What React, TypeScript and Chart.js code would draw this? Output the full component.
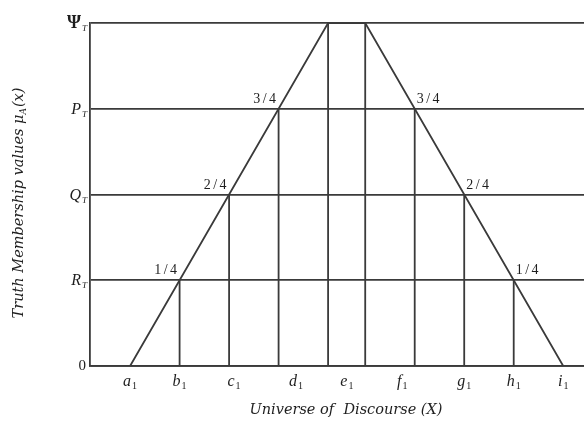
import { useEffect, useRef } from "react";
import { Chart, registerables } from "chart.js";

Chart.register(...registerables);

// Membership levels on the vertical axis (symbol + subscript) and their degrees
const levelSymbols = ["R", "Q", "P", "Ψ"];
const levelValues = [0.25, 0.5, 0.75, 1];
const fractionLabels = ["1/4", "2/4", "3/4"];

// Trapezoidal truth-membership function: a1 -> plateau -> i1
const trapezoidX = [0, 4, 4.75, 8.75];
const trapezoidY = [0, 1, 1, 0];

// Vertical drop lines from the membership curve to the axis
const dropX = [1, 2, 3, 4, 4.75, 5.75, 6.75, 7.75];
const dropTop = [0.25, 0.5, 0.75, 1, 1, 0.75, 0.5, 0.25];

// Points of the universe of discourse shown under the axis
const xTickNames = ["a", "b", "c", "d", "e", "f", "g", "h", "i"];
const xTickValues = [0, 1, 2.1, 3.35, 4.38, 5.5, 6.75, 7.75, 8.75];

const LINE = "#3a3a3a";
const INK = "#1e1e1e";
const SERIF = "'Liberation Serif', 'DejaVu Serif', serif";
const BOOK = "'DejaVu Serif', 'Liberation Serif', serif";

function drawSubscripted(
  ctx: CanvasRenderingContext2D,
  main: string,
  sub: string,
  x: number,
  baseline: number,
  align: "left" | "right" | "center",
  mainFont: string,
  subFont: string,
  subDrop: number
) {
  ctx.font = mainFont;
  const wm = ctx.measureText(main).width;
  ctx.font = subFont;
  const ws = ctx.measureText(sub).width;
  const total = wm + ws + 1;
  let start = x;
  if (align === "right") start = x - total;
  else if (align === "center") start = x - total / 2;
  ctx.textAlign = "left";
  ctx.textBaseline = "alphabetic";
  ctx.font = mainFont;
  ctx.fillText(main, start, baseline);
  ctx.font = subFont;
  ctx.fillText(sub, start + wm + 1, baseline + subDrop);
}

const labelPlugin = {
  id: "membershipLabels",
  afterDraw(chart: any) {
    const ctx: CanvasRenderingContext2D = chart.ctx;
    const xs = chart.scales.x;
    const ys = chart.scales.y;
    ctx.save();
    ctx.fillStyle = INK;

    // vertical axis labels
    const y0 = ys.getPixelForValue(0);
    ctx.font = `15px ${SERIF}`;
    ctx.textAlign = "right";
    ctx.textBaseline = "alphabetic";
    ctx.fillText("0", 86, y0 + 4);
    levelSymbols.forEach((s, i) => {
      const py = ys.getPixelForValue(levelValues[i]);
      const mainFont = s === "Ψ" ? `bold 18px ${SERIF}` : `italic 16px ${SERIF}`;
      drawSubscripted(ctx, s, "T", 87, py + 5, "right", mainFont, `italic 9px ${SERIF}`, 3);
    });

    // horizontal axis labels
    const base = ys.getPixelForValue(0) + 20;
    xTickNames.forEach((n, i) => {
      const px = xs.getPixelForValue(xTickValues[i]);
      drawSubscripted(ctx, n, "1", px, base, "center", `italic 16px ${SERIF}`, `10px ${SERIF}`, 3);
    });

    // membership degree labels at the crossings
    ctx.font = `14px ${SERIF}`;
    (ctx as any).letterSpacing = "2.5px";
    ctx.textBaseline = "alphabetic";
    fractionLabels.forEach((f, i) => {
      const py = ys.getPixelForValue(levelValues[i]);
      const left = xs.getPixelForValue(dropX[i]);
      const right = xs.getPixelForValue(dropX[dropX.length - 1 - i]);
      ctx.textAlign = "right";
      ctx.fillText(f, left, py - 6);
      ctx.textAlign = "left";
      ctx.fillText(f, right + 2, py - 6);
    });
    (ctx as any).letterSpacing = "0px";

    // axis titles
    ctx.textAlign = "center";
    ctx.font = `italic 14.5px ${BOOK}`;
    ctx.fillText("Universe of  Discourse (X)", 346, 414);

    ctx.translate(23, 203);
    ctx.rotate(-Math.PI / 2);
    const pre = "Truth Membership values μ";
    const post = "(x)";
    const mainF = `italic 14.5px ${BOOK}`;
    const subF = `italic 9px ${BOOK}`;
    ctx.font = mainF;
    const wPre = ctx.measureText(pre).width;
    const wPost = ctx.measureText(post).width;
    ctx.font = subF;
    const wSub = ctx.measureText("A").width;
    const total = wPre + wSub + wPost + 1;
    let sx = -total / 2;
    ctx.textAlign = "left";
    ctx.font = mainF;
    ctx.fillText(pre, sx, 0);
    sx += wPre;
    ctx.font = subF;
    ctx.fillText("A", sx, 3);
    sx += wSub + 1;
    ctx.font = mainF;
    ctx.fillText(post, sx, 0);

    ctx.restore();
  },
};

export default function App() {
  const canvasRef = useRef<HTMLCanvasElement | null>(null);

  useEffect(() => {
    const canvas = canvasRef.current;
    if (!canvas) return;

    const lineStyle = {
      showLine: true,
      borderColor: LINE,
      borderWidth: 1.8,
      pointRadius: 0,
      pointHoverRadius: 0,
      fill: false,
      tension: 0,
    };

    const datasets: any[] = [
      {
        ...lineStyle,
        label: "membership",
        data: trapezoidX.map((x, i) => ({ x, y: trapezoidY[i] })),
      },
      ...dropX.map((x, i) => ({
        ...lineStyle,
        label: `drop${i}`,
        data: [
          { x, y: 0 },
          { x, y: dropTop[i] },
        ],
      })),
    ];

    const chart = new Chart(canvas, {
      type: "scatter",
      data: { datasets },
      plugins: [labelPlugin],
      options: {
        animation: false,
        responsive: false,
        events: [],
        layout: { padding: { left: 90, top: 23, right: 0, bottom: 66 } },
        plugins: { legend: { display: false }, tooltip: { enabled: false } },
        scales: {
          x: {
            type: "linear",
            min: -0.81,
            max: 9.17,
            ticks: { display: false },
            grid: { display: false, drawTicks: false },
            border: { display: true, color: LINE, width: 1.8 },
          },
          y: {
            type: "linear",
            min: 0,
            max: 1,
            afterBuildTicks: (scale: any) => {
              scale.ticks = [0, ...levelValues].map((v) => ({ value: v }));
            },
            ticks: { display: false },
            grid: { display: true, drawTicks: false, color: LINE, lineWidth: 1.8 },
            border: { display: true, color: LINE, width: 1.8 },
          },
        },
      },
    });

    return () => chart.destroy();
  }, []);

  return (
    <div style={{ position: "fixed", left: 0, top: 0, width: 584, height: 432, background: "#fff" }}>
      <canvas ref={canvasRef} width={584} height={432} style={{ display: "block" }} />
    </div>
  );
}
